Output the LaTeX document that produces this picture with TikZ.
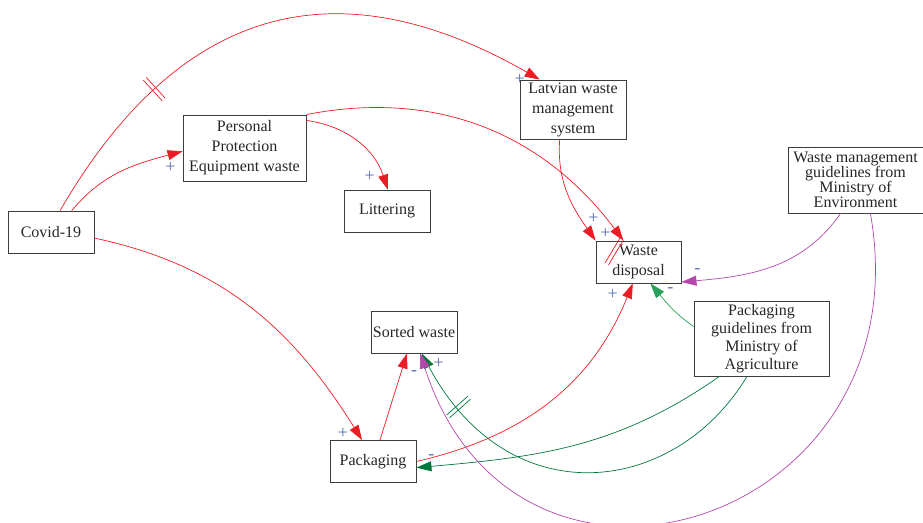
\documentclass[tikz,border=0pt]{standalone}
\usepackage{fontspec}
\setmainfont{Liberation Serif}
\usepackage{xcolor}
\usepackage{tikz}
\usetikzlibrary{arrows.meta, calc, positioning, decorations.markings}
\definecolor{linkred}{RGB}{236,28,36}
\definecolor{linkgreen}{RGB}{40,160,90}
\definecolor{darkgreen}{RGB}{0,120,60}
\definecolor{linkmagenta}{RGB}{180,70,170}
\definecolor{polblue}{RGB}{90,110,180}
\definecolor{boxgray}{RGB}{60,60,60}
\tikzset{
    box/.style={rectangle, draw=boxgray, line width=0.9pt, align=center, text=black!85,
        inner sep=0pt, minimum width=86pt, minimum height=42pt,
        font=\fontsize{16pt}{20pt}\selectfont},
    arrow/.style={-{Triangle[length=15pt, width=10pt]}, line width=0.7pt},
    redlink/.style={arrow, linkred},
    greenlink/.style={arrow, linkgreen},
    darklink/.style={arrow, darkgreen},
    magentalink/.style={arrow, linkmagenta},
    pol/.style={font=\fontsize{18pt}{18pt}\selectfont, text=polblue, inner sep=0pt},
    delaymark/.style={postaction={decorate, decoration={markings,
        mark=at position #1 with {\draw[-] (-2pt,-14pt) -- (-2pt,14pt) (2pt,-14pt) -- (2pt,14pt);}}}},
    enddelay/.style={postaction={decorate, decoration={markings,
        mark=at position 0.999 with {\draw[-] (0pt,0pt) -- (10.9pt,-26.9pt) (-3.7pt,-1.5pt) -- (7.2pt,-28.4pt);}}}},
}

\begin{document}
\begin{tikzpicture}[x=1pt, y=1pt, on grid]
    \useasboundingbox (-51,-290) rectangle (872,232);
    \node[box] (covid) at (0,0) {Covid-19};
    \node[box, minimum width=123pt, minimum height=66pt, above right=84pt and 193.5pt of covid] (ppe) {Personal\\Protection\\Equipment waste};
    \node[box, below right=63pt and 142.5pt of ppe] (lit) {Littering};
    \node[box, minimum width=106pt, minimum height=59pt, above right=122.5pt and 522pt of covid] (lat) {Latvian waste\\management\\system};
    \node[box, minimum width=85pt, below right=152.5pt and 65.5pt of lat] (wd) {Waste\\disposal};
    \node[box, minimum width=135pt, minimum height=66pt, font=\fontsize{16pt}{15pt}\selectfont,
        above right=52pt and 804.5pt of covid] (env) {Waste management\\guidelines from\\Ministry of\\Environment};
    \node[box, minimum width=135pt, minimum height=75pt, font=\fontsize{16pt}{18pt}\selectfont,
        below right=76.5pt and 123pt of wd] (agri) {Packaging\\guidelines from\\Ministry of\\Agriculture};
    \node[box, below right=229.5pt and 322pt of covid] (pack) {Packaging};
    \node[box, above right=129.5pt and 41pt of pack] (sorted) {Sorted waste};

    \draw[redlink, delaymark=0.27] (covid.67) .. controls +(135,233) and +(-175,100) .. (lat.138)
        node[pol, xshift=-20pt] (s1) {+};
    \draw[redlink] (covid.46) to[out=50, in=195] (ppe.183) node[pol, xshift=-12pt, yshift=-16pt] (s2) {+};
    \draw[redlink] (covid.-8) to[out=-12, in=122] (pack.117) node[pol, xshift=-19pt, yshift=7pt] (s3) {+};
    \draw[redlink] (ppe.24) to[out=-8, in=108] (lit.88) node[pol, xshift=-18pt, yshift=13pt] (s4) {+};
    \draw[redlink, enddelay] (ppe.north east) to[out=11, in=127] (wd.125) node[pol, xshift=-18pt, yshift=7pt] (s5) {+};
    \draw[redlink] (lat.-114) to[out=-94, in=125] (wd.north west) node[pol, xshift=-2pt, yshift=22pt] (s6) {+};
    \draw[redlink] (pack.72) -- (sorted.-108);
    \draw[redlink] (pack.east) to[out=13, in=-112] (wd.-105) node[pol, xshift=-20pt, yshift=-11pt] (s8) {+};
    \draw[greenlink] (agri.170) to[out=145, in=-50] (wd.-61) node[pol, xshift=20pt, yshift=-7pt] (s9) {-};
    \draw[darklink] (agri.-138) to[out=-145, in=5] (pack.-8) node[pol, xshift=15pt, yshift=11pt] (s10) {-};
    \draw[darklink, delaymark=0.84] (agri.-111) .. controls +(-72,-120) and +(87,-163) .. (sorted.-70)
        node[pol, xshift=17pt, yshift=-10pt] (s11) {+};
    \draw[magentalink] (env.-114) to[out=-125, in=5] (wd.-25) node[pol, xshift=16pt, yshift=11pt] (s12) {-};
    \draw[magentalink] (env.-66) .. controls +(55,-310) and +(97,-300) .. (sorted.-74)
        node[pol, xshift=-6pt, yshift=-20pt] (s13) {-};
\end{tikzpicture}
\end{document}
